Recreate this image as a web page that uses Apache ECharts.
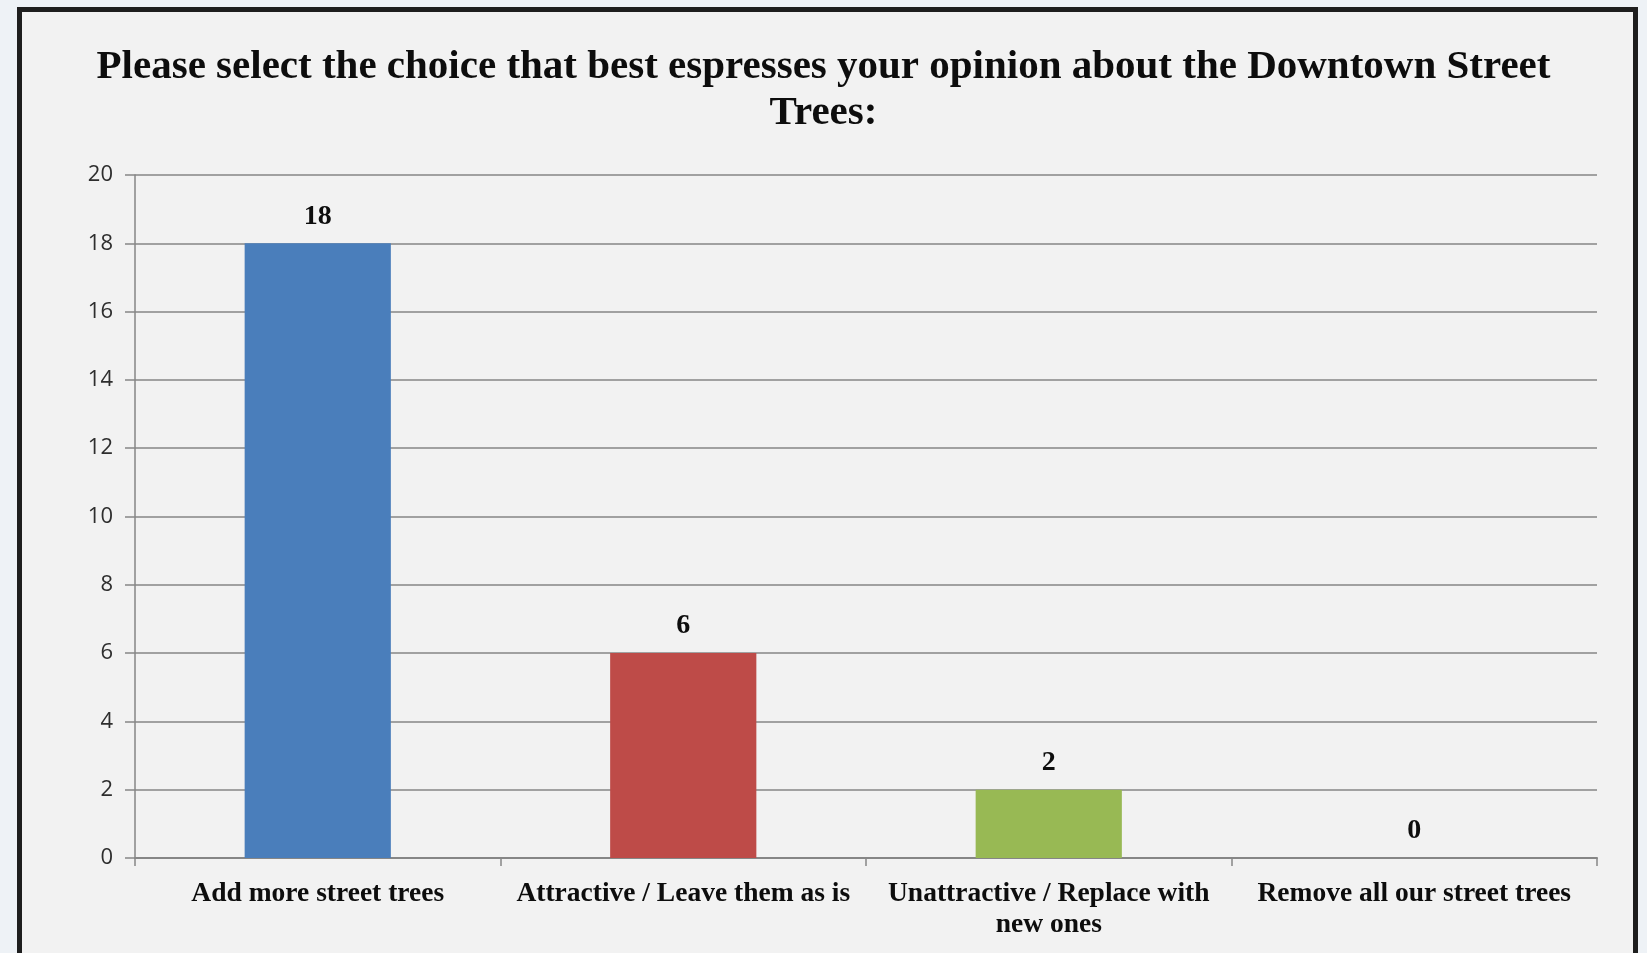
<!DOCTYPE html>
<html><head><meta charset="utf-8">
<script src="https://cdn.jsdelivr.net/npm/echarts@6/dist/echarts.min.js"></script>
<style>html,body{margin:0;padding:0;background:#eef2f6;}#c{width:1647px;height:953px;}</style>
</head><body><div id="c"></div>
<script>
const titleText = "Please select the choice that best espresses your opinion about the Downtown Street\nTrees:";
const categories = ["Add more street trees", "Attractive / Leave them as is", "Unattractive / Replace with\nnew ones", "Remove all our street trees"];
const values = [18, 6, 2, 0];
const barColors = ["#4a7ebb", "#be4b48", "#98b954", "#7f7f7f"];
const yMin = 0, yMax = 20, yStep = 2;

const chart = echarts.init(document.getElementById('c'));
chart.setOption({
  backgroundColor: '#eef2f6',
  animation: false,
  graphic: [{
    type: 'rect', z: -10, silent: true,
    shape: { x: 19.5, y: 9.5, width: 1616, height: 960 },
    style: { fill: '#f2f2f2', stroke: '#1e1e1e', lineWidth: 5 }
  }],
  title: {
    text: titleText, left: 'center', top: 39,
    textStyle: { fontFamily: 'Liberation Serif', fontWeight: 'bold', fontSize: 41, lineHeight: 46, color: '#0d0d0d' }
  },
  grid: { left: 135, right: 50, top: 175, bottom: 95, containLabel: false },
  xAxis: {
    type: 'category', data: categories,
    axisLine: { lineStyle: { color: '#868686', width: 2 } },
    axisTick: { show: true, length: 8, lineStyle: { color: '#868686', width: 1.5 } },
    axisLabel: { interval: 0, margin: 20, fontFamily: 'Liberation Serif', fontWeight: 'bold', fontSize: 27.5, lineHeight: 31, color: '#0d0d0d' }
  },
  yAxis: {
    type: 'value', min: yMin, max: yMax, interval: yStep,
    axisLine: { show: true, lineStyle: { color: '#868686', width: 1.5 } },
    axisTick: { show: true, length: 10, lineStyle: { color: '#868686', width: 1.5 } },
    splitLine: { lineStyle: { color: '#868686', width: 1.5 } },
    axisLabel: { margin: 22, fontFamily: 'Open Sans', fontSize: 22, color: '#2e2e2e' }
  },
  series: [{
    type: 'bar', barWidth: '40%',
    data: values.map((v, i) => ({ value: v, itemStyle: { color: barColors[i] } })),
    label: { show: true, position: 'top', distance: 13, fontFamily: 'Liberation Serif', fontWeight: 'bold', fontSize: 28, color: '#0d0d0d' }
  }]
});
</script></body></html>
